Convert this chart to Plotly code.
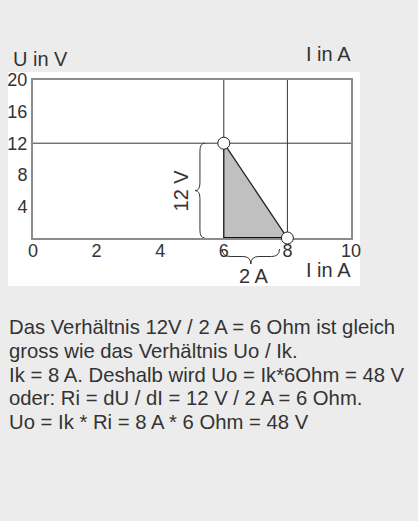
import plotly.graph_objects as go

# ---- data ----
x_ticks = [0, 2, 4, 6, 8, 10]
y_ticks = [4, 8, 12, 16, 20]
guide_x = [6, 8]
guide_y = [12]
tri_i = [6, 6, 8]        # current (A)
tri_u = [0, 12, 0]       # voltage (V)
pt_i = [6, 8]
pt_u = [12, 0]
text_lines = [
    "Das Verhältnis 12V / 2 A = 6 Ohm ist gleich",
    "gross wie das Verhältnis Uo / Ik.",
    "Ik = 8 A. Deshalb wird Uo = Ik*6Ohm = 48 V",
    "oder: Ri = dU / dI = 12 V / 2 A = 6 Ohm.",
    "Uo = Ik * Ri = 8 A * 6 Ohm = 48 V",
]

W, H = 418, 521
L, R, T, B = 33, 67, 80, 283
PW, PH = W - L - R, H - T - B
def px(x):
    return (x - L) / PW
def py(y):
    return (H - B - y) / PH

FONT = "Liberation Sans, Arial, sans-serif"
TXT = "#333333"
DARK = "#333333"

fig = go.Figure()

# guide lines
for gx in guide_x:
    fig.add_trace(go.Scatter(x=[gx, gx], y=[0, 20], mode="lines",
                             line=dict(color=DARK, width=1), hoverinfo="skip"))
for gy in guide_y:
    fig.add_trace(go.Scatter(x=[0, 10], y=[gy, gy], mode="lines",
                             line=dict(color=DARK, width=1), hoverinfo="skip"))

# triangle
fig.add_trace(go.Scatter(x=tri_i + [tri_i[0]], y=tri_u + [tri_u[0]], mode="lines",
                         fill="toself", fillcolor="#c0c0c0",
                         line=dict(color="#222222", width=1.3), hoverinfo="skip"))
# bottom edge emphasised
fig.add_trace(go.Scatter(x=[tri_i[0], tri_i[2]], y=[tri_u[0], tri_u[2]], mode="lines",
                         line=dict(color="#111111", width=2), hoverinfo="skip"))

# points
fig.add_trace(go.Scatter(x=pt_i, y=pt_u, mode="markers", cliponaxis=False,
                         marker=dict(size=12, color="white",
                                     line=dict(color="#222222", width=1)),
                         hoverinfo="skip"))

shapes = []
# white panel behind the chart
shapes.append(dict(type="rect", xref="paper", yref="paper", layer="below",
                   x0=px(8), x1=px(360), y0=py(286), y1=py(72),
                   fillcolor="white", line=dict(width=0)))

# vertical brace for dU (left of x=6, from 0 to 12)
u_top = max(tri_u)
xr, xm, xl = pt_i[0] - 0.6, pt_i[0] - 0.75, pt_i[0] - 0.9
ym = u_top / 2
d = 1.0
vpath = (f"M {xr},{u_top} Q {xm},{u_top} {xm},{u_top - d} L {xm},{ym + d} "
         f"Q {xm},{ym} {xl},{ym} Q {xm},{ym} {xm},{ym - d} L {xm},{d} "
         f"Q {xm},0 {xr},0")
shapes.append(dict(type="path", xref="x", yref="y", path=vpath,
                   line=dict(color=DARK, width=1)))

# horizontal brace for dI (below axis, from 6 to 8)
a0, a1 = pt_i[0] - 0.05, pt_i[1] - 0.25
am = (a0 + a1) / 2
y_top, y_mid, y_tip = py(249), py(256.5), py(264)
dx = 0.25
hpath = (f"M {a0},{y_top} Q {a0},{y_mid} {a0 + dx},{y_mid} L {am - dx},{y_mid} "
         f"Q {am},{y_mid} {am},{y_tip} Q {am},{y_mid} {am + dx},{y_mid} "
         f"L {a1 - dx},{y_mid} Q {a1},{y_mid} {a1},{y_top}")
shapes.append(dict(type="path", xref="x", yref="paper", path=hpath,
                   line=dict(color=DARK, width=1)))

annotations = [
    dict(text="U in V", xref="paper", yref="paper", x=px(11), y=py(59),
         xanchor="left", yanchor="middle", showarrow=False,
         font=dict(size=20, color=TXT, family=FONT)),
    dict(text="I in A", xref="paper", yref="paper", x=px(353), y=py(54),
         xanchor="right", yanchor="middle", showarrow=False,
         font=dict(size=20, color=TXT, family=FONT)),
    dict(text="I in A", xref="paper", yref="paper", x=px(353), y=py(270),
         xanchor="right", yanchor="middle", showarrow=False,
         font=dict(size=20, color=TXT, family=FONT)),
    dict(text="2 A", xref="x", yref="paper", x=am + 0.1, y=py(276),
         xanchor="center", yanchor="middle", showarrow=False,
         font=dict(size=20, color=TXT, family=FONT)),
    dict(text="12 V", xref="x", yref="y", x=xl - 0.45, y=ym, textangle=-90,
         xanchor="center", yanchor="middle", showarrow=False,
         font=dict(size=20, color=TXT, family=FONT)),
]
line_y = [327, 351, 374.5, 398, 422]
for t, yy in zip(text_lines, line_y):
    annotations.append(dict(text=t, xref="paper", yref="paper", x=px(7), y=py(yy),
                            xanchor="left", yanchor="middle", showarrow=False,
                            font=dict(size=20.3, color=TXT, family=FONT)))

fig.update_layout(
    width=W, height=H,
    margin=dict(l=L, r=R, t=T, b=B, autoexpand=False),
    paper_bgcolor="#ececec", plot_bgcolor="white",
    showlegend=False,
    shapes=shapes, annotations=annotations,
    xaxis=dict(range=[0, 10], tickvals=x_ticks, ticktext=[str(v) for v in x_ticks],
               showgrid=False, zeroline=False, showline=True, mirror=True,
               linecolor="#8c8c8c", linewidth=2, ticks="", layer="below traces",
               ticklabelstandoff=-5,
               tickfont=dict(size=18, color=TXT, family=FONT), fixedrange=True),
    yaxis=dict(range=[0, 20], tickvals=y_ticks, ticktext=[str(v) for v in y_ticks],
               showgrid=False, zeroline=False, showline=True, mirror=True,
               linecolor="#8c8c8c", linewidth=2, ticks="", layer="below traces",
               tickfont=dict(size=18, color=TXT, family=FONT), fixedrange=True),
)

fig.write_html("out.html", config={"displayModeBar": False},
               post_script="document.body.style.margin='0';"
                           "document.body.style.background='#ececec';")
